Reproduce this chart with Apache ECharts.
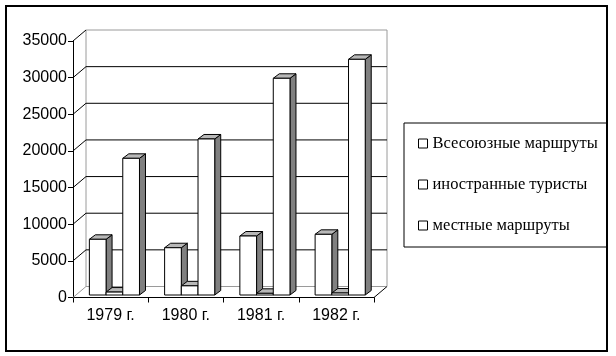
<!DOCTYPE html>
<html><head><meta charset="utf-8">
<script src="https://cdn.jsdelivr.net/npm/echarts@6/dist/echarts.min.js"></script>
<style>html,body{margin:0;padding:0;background:#fff}#c{width:616px;height:356px}</style>
</head><body><div id="c"></div>
<script>
const categories = ['1979 г.', '1980 г.', '1981 г.', '1982 г.'];
const seriesNames = ['Всесоюзные маршруты', 'иностранные туристы', 'местные маршруты'];
const allUnion = [7600, 6450, 8050, 8280];
const foreign = [400, 1250, 230, 270];
const local = [18650, 21290, 29570, 32160];
const yTicks = [0, 5000, 10000, 15000, 20000, 25000, 30000, 35000];

const DX = 13, DY = -11;       // wall depth
const BX = 3.8, BY = -2.5;     // bar depth offset
const SX = 6, SY = -4.5;       // bar own depth

const chart = echarts.init(document.getElementById('c'), null, {renderer: 'canvas'});

function wallItem(params, api) {
  const v = api.value(0);
  const band = api.size([1, 0])[0];
  const p0 = api.coord([0, v]);
  const p3 = api.coord([3, v]);
  const x0 = p0[0] - band / 2, x1 = p3[0] + band / 2, y = p0[1];
  const children = [];
  const black = {stroke: '#000', lineWidth: 1};
  const gray = {stroke: '#9a9a9a', lineWidth: 1};
  const isMin = v === yTicks[0], isMax = v === yTicks[yTicks.length - 1];
  children.push({type: 'line', shape: {x1: x0, y1: y, x2: x0 + DX, y2: y + DY}, style: isMin ? gray : black});
  children.push({type: 'line', shape: {x1: x0 + DX, y1: y + DY, x2: x1 + DX, y2: y + DY}, style: (isMin || isMax) ? gray : black});
  if (isMin) {
    children.push({type: 'line', shape: {x1: x1, y1: y, x2: x1 + DX, y2: y + DY}, style: black});
    const top = api.coord([0, yTicks[yTicks.length - 1]])[1];
    children.push({type: 'line', shape: {x1: x0 + DX, y1: y + DY, x2: x0 + DX, y2: top + DY}, style: gray});
    children.push({type: 'line', shape: {x1: x1 + DX, y1: y + DY, x2: x1 + DX, y2: top + DY}, style: gray});
  }
  return {type: 'group', children: children};
}

function barRenderer(si) {
  return function (params, api) {
    const ci = api.value(0), v = api.value(1);
    const band = api.size([1, 0])[0];
    const bw = band * 0.222;
    const top = api.coord([ci, v]);
    const base = api.coord([ci, 0]);
    const xl = top[0] - 1.5 * bw + si * bw + BX;
    const xr = xl + bw;
    const yt = top[1] + BY, yb = base[1] + BY;
    const ln = {stroke: '#000', lineWidth: 1};
    return {type: 'group', children: [
      {type: 'polygon', shape: {points: [[xr, yb], [xr + SX, yb + SY], [xr + SX, yt + SY], [xr, yt]]},
        style: Object.assign({fill: '#808080'}, ln)},
      {type: 'polygon', shape: {points: [[xl, yt], [xl + SX, yt + SY], [xr + SX, yt + SY], [xr, yt]]},
        style: Object.assign({fill: '#b8b8b8'}, ln)},
      {type: 'rect', shape: {x: xl, y: yt, width: bw, height: yb - yt},
        style: Object.assign({fill: '#fff'}, ln)}
    ]};
  };
}

const seriesData = [allUnion, foreign, local];
const series = [{
  type: 'custom', name: 'walls', coordinateSystem: 'cartesian2d', silent: true,
  renderItem: wallItem, data: yTicks.map(v => [v]), encode: {y: 0}, z: 1
}];
seriesData.forEach((arr, si) => {
  series.push({
    type: 'custom', name: seriesNames[si], coordinateSystem: 'cartesian2d',
    renderItem: barRenderer(si), data: arr.map((v, i) => [i, v]), encode: {x: 0, y: 1},
    itemStyle: {color: '#fff', borderColor: '#000', borderWidth: 1}, z: 3 + si
  });
});

chart.setOption({
  animation: false,
  backgroundColor: '#fff',
  grid: {left: 73, right: 242, top: 41, bottom: 58.5, containLabel: false},
  xAxis: {
    type: 'category', data: categories, boundaryGap: true,
    axisLine: {lineStyle: {color: '#000', width: 1}},
    axisTick: {show: true, length: 5, lineStyle: {color: '#000'}},
    axisLabel: {color: '#000', fontFamily: 'Liberation Sans', fontSize: 16, margin: 10},
    splitLine: {show: false}
  },
  yAxis: {
    type: 'value', min: 0, max: 35000, interval: 5000,
    axisLine: {show: true, lineStyle: {color: '#000', width: 1}},
    axisTick: {show: true, length: 5, lineStyle: {color: '#000'}},
    axisLabel: {color: '#000', fontFamily: 'Liberation Sans', fontSize: 16, margin: 6,
      formatter: v => String(v)},
    splitLine: {show: false}
  },
  legend: {
    data: seriesNames, orient: 'vertical', left: 404, top: 123,
    padding: [12, 9, 13, 14], itemGap: 24, itemWidth: 9, itemHeight: 9,
    borderColor: '#000', borderWidth: 1, icon: 'rect',
    itemStyle: {color: '#fff', borderColor: '#000', borderWidth: 1},
    textStyle: {color: '#000', fontFamily: 'Liberation Serif', fontSize: 16.5}
  },
  graphic: [{type: 'rect', shape: {x: 6, y: 6, width: 601, height: 345},
    style: {fill: null, stroke: '#000', lineWidth: 2}, silent: true, z: 10}],
  series: series
});
</script></body></html>
